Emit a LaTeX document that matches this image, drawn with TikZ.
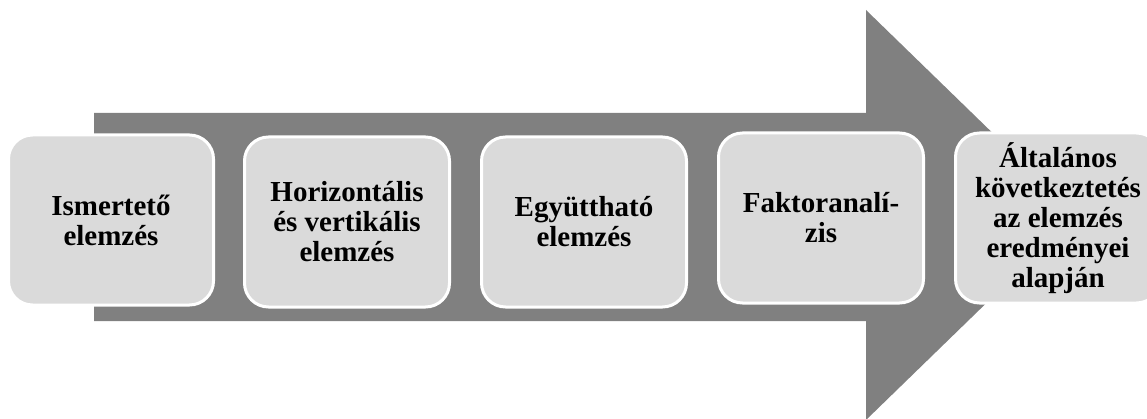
\documentclass[tikz,border=0pt]{standalone}
\usepackage{fontspec}
\setmainfont{Liberation Serif}
\definecolor{arrowgray}{RGB}{128,128,128}
\definecolor{boxgray}{RGB}{218,218,218}
\tikzset{
  stepbox/.style={draw=white, line width=3pt, fill=boxgray,
    rounded corners=24pt, minimum width=205pt, minimum height=170pt,
    inner sep=2pt, align=center,
    font=\fontsize{29}{30}\selectfont\bfseries},
}
\begin{document}
\begin{tikzpicture}[x=1pt, y=-1pt]
  \path[use as bounding box, clip] (0,0) rectangle (1147,419);
  % big process arrow in the background
  \fill[arrowgray] (94,113) -- (866,113) -- (866,10) -- (1077,215)
    -- (866,420) -- (866,321) -- (94,321) -- cycle;
  % process steps
  \node[stepbox] (s1) at (111,220) {Ismertető\\elemzés};
  \node[stepbox] (s2) at (347,222) {Horizontális\\és vertikális\\elemzés};
  \node[stepbox] (s3) at (584,222) {Együttható\\elemzés};
  \node[stepbox] (s4) at (821,218) {Faktoranalí-\\zis};
  \node[stepbox] (s5) at (1058,218) {Általános\\következtetés\\az elemzés\\eredményei\\alapján};
\end{tikzpicture}
\end{document}
